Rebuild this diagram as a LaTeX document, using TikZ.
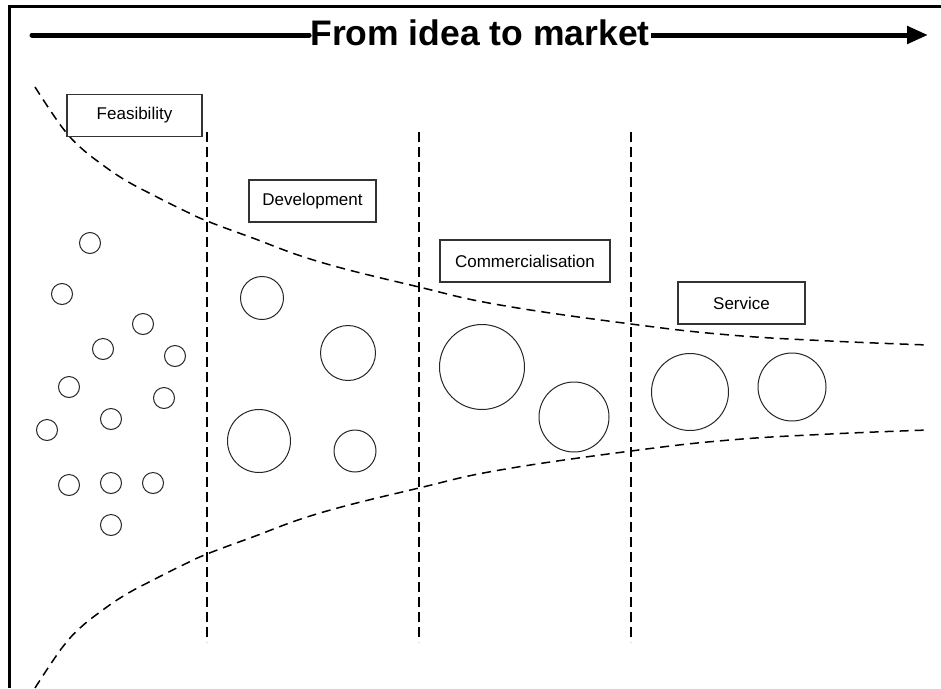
\documentclass[tikz,border=0pt]{standalone}
\usepackage{fontspec}
\setmainfont{Liberation Sans}
\usetikzlibrary{arrows.meta}
\begin{document}
\begin{tikzpicture}[x=1pt,y=-1pt,
  stagebox/.style={draw=black!80, line width=1.2pt, fill=white,
    minimum height=42pt, inner sep=0pt, font=\fontsize{17}{20}\selectfont},
  idea/.style={draw=black!85, line width=1pt, circle, inner sep=0pt},
  gate/.style={line width=1.5pt, dash pattern=on 10pt off 5pt},
  funnel/.style={line width=1.5pt, dash pattern=on 9pt off 6pt},
  headline/.style={font=\bfseries\fontsize{35.5}{40}\selectfont,
    inner xsep=1pt, inner ysep=0pt}]
\useasboundingbox (0,0) rectangle (941,688);

% frame (top and left edges)
\draw[line width=3pt] (9,688) -- (9,6.5) -- (941,6.5);

% headline arrow
\node[headline, anchor=base] (title) at (480,45) {From idea to market};
\coordinate (tstart) at (32,35);
\coordinate (tend) at (928,35);
\draw[line width=5pt, line cap=round] (tstart) -- (tstart -| title.west);
\draw[line width=5pt, -{Triangle[length=21pt,width=17pt]}] (tend -| title.east) -- (tend);

% stage gates
\foreach \g/\gx in {g1/207, g2/419, g3/631} {
  \coordinate (\g top) at (\gx,132);
  \coordinate (\g bot) at (\gx,642);
  \draw[gate] (\g top) -- (\g bot);
}

% funnel boundaries
\draw[funnel] plot[smooth, tension=0.7] coordinates {
  (35,87) (50,110) (65,131) (80,147) (100,163) (125,180) (155,196)
  (185,211) (207,221) (250,237) (320,262) (419,287) (500,305)
  (631,324) (730,335) (830,341) (928,345)};
\draw[funnel] plot[smooth, tension=0.7] coordinates {
  (35,688) (50,665) (65,644) (80,628) (100,612) (125,595) (155,579)
  (185,564) (207,554) (250,538) (320,513) (419,488) (500,470)
  (631,451) (730,440) (830,434) (928,430)};

% stage labels
\node[stagebox, minimum width=135pt] (feas) at (134.5,115.5) {Feasibility};
\node[stagebox, minimum width=127pt] (dev)  at (312.5,201)   {Development};
\node[stagebox, minimum width=170pt] (comm) at (525,261)     {Commercialisation};
\node[stagebox, minimum width=127pt] (serv) at (741.5,303)   {Service};

% ideas
\foreach \n/\cx/\cy/\d in {
  f1/90/243/21, f2/62/294/21, f3/143/324/21, f4/103/349/21,
  f5/175/356/21, f6/69/387/21, f7/164/398/21, f8/111/419/21,
  f9/47/430/21, f10/69/485/21, f11/111/483/21, f12/153/483/21,
  f13/111/525/21,
  d1/262/298/43, d2/348/353/55, d3/259/441/63, d4/355/451/42,
  m1/482/367/85, m2/574/417/70,
  s1/690/392/77, s2/792/387/68} {
  \node[idea, minimum size=\d pt] (\n) at (\cx,\cy) {};
}
\end{tikzpicture}
\end{document}
